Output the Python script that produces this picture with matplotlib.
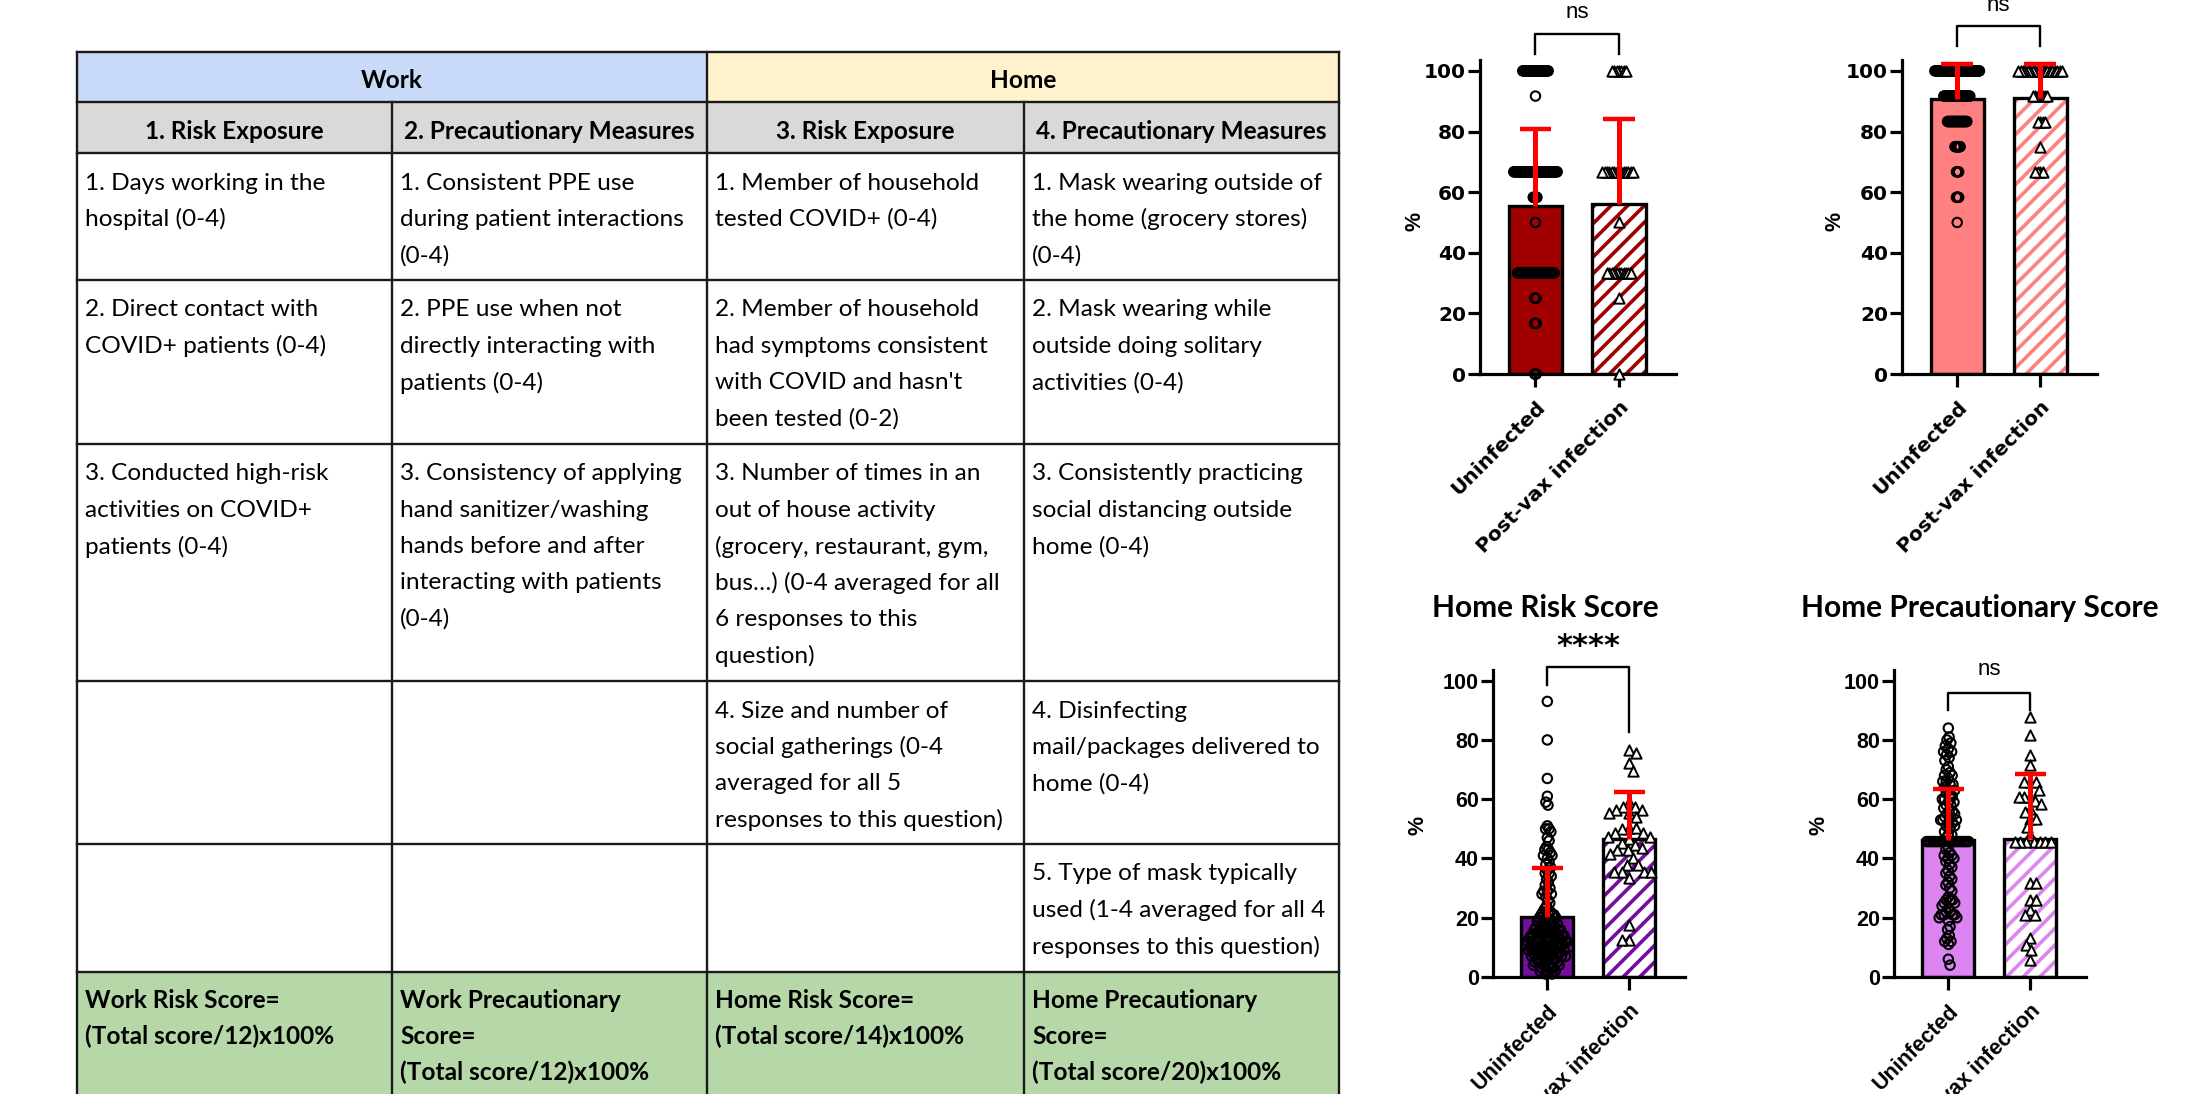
import numpy as np
import matplotlib.pyplot as plt
from matplotlib.patches import Rectangle

plt.rcParams['hatch.linewidth'] = 2.6

groups = ['Uninfected', 'Post-vax infection']

# ---- table text ----
head_top = ['Work', 'Home']
head_sub = ['1. Risk Exposure', '2. Precautionary Measures', '3. Risk Exposure', '4. Precautionary Measures']
cells = [
    [["1. Days working in the", "hospital (0-4)"],
     ["1. Consistent PPE use", "during patient interactions", "(0-4)"],
     ["1. Member of household", "tested COVID+ (0-4)"],
     ["1. Mask wearing outside of", "the home (grocery stores)", "(0-4)"]],
    [["2. Direct contact with", "COVID+ patients (0-4)"],
     ["2. PPE use when not", "directly interacting with", "patients (0-4)"],
     ["2. Member of household", "had symptoms consistent", "with COVID and hasn't", "been tested (0-2)"],
     ["2. Mask wearing while", "outside doing solitary", "activities (0-4)"]],
    [["3. Conducted high-risk", "activities on COVID+", "patients (0-4)"],
     ["3. Consistency of applying", "hand sanitizer/washing", "hands before and after", "interacting with patients", "(0-4)"],
     ["3. Number of times in an", "out of house activity", "(grocery, restaurant, gym,", "bus\u2026) (0-4 averaged for all", "6 responses to this", "question)"],
     ["3. Consistently practicing", "social distancing outside", "home (0-4)"]],
    [[], [],
     ["4. Size and number of", "social gatherings (0-4", "averaged for all 5", "responses to this question)"],
     ["4. Disinfecting", "mail/packages delivered to", "home (0-4)"]],
    [[], [], [],
     ["5. Type of mask typically", "used (1-4 averaged for all 4", "responses to this question)"]],
]
score_cells = [["Work Risk Score=", "(Total score/12)x100%"],
               ["Work Precautionary", "Score=", "(Total score/12)x100%"],
               ["Home Risk Score=", "(Total score/14)x100%"],
               ["Home Precautionary", "Score=", "(Total score/20)x100%"]]

# ---- chart data ----
# Work Risk Score
wr_uninf_vals = [100, 91.7, 66.7, 58.3, 50, 33.3, 25, 16.7, 0]
wr_uninf_n = [35, 1, 59, 6, 1, 50, 3, 3, 3]
wr_pv_vals = [100, 66.7, 50, 33.3, 25, 0]
wr_pv_n = [7, 14, 1, 11, 1, 1]
wr_mean = [55.3, 56.2]
wr_top = [80.9, 84.1]

# Work Precautionary Score
wp_uninf_vals = [100, 91.7, 83.3, 75, 66.7, 58.3, 50]
wp_uninf_n = [61, 36, 27, 8, 4, 4, 1]
wp_pv_vals = [100, 91.7, 83.3, 75, 66.7]
wp_pv_n = [19, 7, 4, 1, 4]
wp_mean = [90.6, 91.2]
wp_top = [102.2, 102.2]

# Home Risk Score
hr_uninf = [93, 80, 67, 61, 59, 58, 51, 50, 50, 49, 47, 46, 44, 43, 43, 42, 41, 41, 40, 39,
            38, 37, 36, 35, 35, 34, 33, 32, 31, 30, 29, 29, 28, 28, 27, 26, 25, 24, 23, 22,
            22, 22, 21, 21, 21, 20, 20, 20, 19, 19, 19, 18, 18, 18, 18, 17, 17, 17, 17, 16,
            16, 16, 16, 16, 15, 15, 15, 15, 15, 14, 14, 14, 14, 14, 14, 13, 13, 13, 13, 13,
            13, 13, 12, 12, 12, 12, 12, 12, 12, 11, 11, 11, 11, 11, 11, 11, 10, 10, 10, 10,
            10, 10, 10, 9, 9, 9, 9, 9, 9, 8, 8, 8, 8, 8, 8, 7, 7, 7, 7, 7, 6, 6, 6, 6, 6,
            5, 5, 5, 5, 4, 4, 4, 4, 3, 3, 3, 2, 2, 2, 1, 1]
hr_pv = [76.7, 75.6, 72.2, 69.4, 59.2, 57.5, 57.5, 56.4, 56.4, 55.3, 55.3, 54, 50.2, 50.2,
         50, 48.5, 48.5, 47.4, 47.4, 46.5, 45.2, 44.5, 43.5, 42.9, 42.9, 41.5, 40.1, 37.8,
         37.8, 35.6, 35.6, 35.6, 35.6, 33.3, 17.6, 12.5, 12.5]
hr_mean = [20.4, 46.5]
hr_top = [36.9, 62.4]

# Home Precautionary Score
hp_uninf = [84, 81, 80, 79, 78, 77, 76, 76, 75, 74, 73, 71, 70, 69, 68, 68, 67, 66, 66, 65,
            65, 64, 63, 63, 62, 61, 61, 60, 60, 59, 59, 58, 58, 57, 56, 56, 55, 55, 54, 54,
            53, 53, 53, 52, 52, 51, 51, 50, 49, 48, 48, 47] + [45.7] * 18 + \
           [44, 43, 42, 41, 41, 40, 40, 39, 38, 37, 36, 35, 34, 33, 32, 31, 30, 29, 27, 26,
            26, 26, 25, 25, 24, 23, 22, 22, 21, 21, 21, 21, 20, 20, 19, 17, 16, 14, 13, 12,
            12, 11, 6, 4]
hp_pv = [87.9, 81.8, 75.0, 71.6, 65.9, 65.9, 65.9, 63.1, 60.8, 60.8, 60.8, 59.5, 58.5, 56.8,
         55.7, 53.4, 53.4, 50.6, 47.8, 45.6, 45.6, 45.6, 45.6, 45.6, 45.6, 45.6, 31.6, 31.6,
         26.0, 26.0, 22.6, 20.9, 20.9, 13.0, 10.8, 9.1, 5.7]
hp_mean = [46.3, 46.5]
hp_top = [63.4, 68.6]

W, H = 2187, 1094
fig = plt.figure(figsize=(W / 100, H / 100), dpi=100)

# ================= table =================
tab = fig.add_axes([0, 0, 1, 1])
tab.set_xlim(0, W)
tab.set_ylim(H, 0)
tab.axis('off')

col_x = [77, 392, 707, 1024, 1339]
row_y = [52, 102, 153, 280, 444, 681, 844, 972, 1140]
tfont = ['Lato', 'DejaVu Sans']
fs = 17.6
lsp = 36.3

tab.add_patch(Rectangle((col_x[0], row_y[0]), col_x[2] - col_x[0], row_y[1] - row_y[0], fc='#C9DAF8', ec='none'))
tab.add_patch(Rectangle((col_x[2], row_y[0]), col_x[4] - col_x[2], row_y[1] - row_y[0], fc='#FFF2CC', ec='none'))
tab.add_patch(Rectangle((col_x[0], row_y[1]), col_x[4] - col_x[0], row_y[2] - row_y[1], fc='#D9D9D9', ec='none'))
tab.add_patch(Rectangle((col_x[0], row_y[7]), col_x[4] - col_x[0], row_y[8] - row_y[7], fc='#B6D7A8', ec='none'))

for y in row_y[:-1]:
    tab.plot([col_x[0], col_x[4]], [y, y], color='#1a1a1a', lw=1.7, solid_capstyle='projecting')
for i, x in enumerate(col_x):
    y0 = row_y[1] if i in (1, 3) else row_y[0]
    tab.plot([x, x], [y0, row_y[-1]], color='#1a1a1a', lw=1.7, solid_capstyle='projecting')

tab.text((col_x[0] + col_x[2]) / 2, (row_y[0] + row_y[1]) / 2 + 4, head_top[0], ha='center', va='center',
         fontsize=fs, fontweight='bold', family=tfont)
tab.text((col_x[2] + col_x[4]) / 2, (row_y[0] + row_y[1]) / 2 + 4, head_top[1], ha='center', va='center',
         fontsize=fs, fontweight='bold', family=tfont)
for j, s in enumerate(head_sub):
    tab.text((col_x[j] + col_x[j + 1]) / 2, (row_y[1] + row_y[2]) / 2 + 4, s, ha='center', va='center',
             fontsize=fs, fontweight='bold', family=tfont)

for r, row in enumerate(cells):
    for c, lines in enumerate(row):
        for k, s in enumerate(lines):
            tab.text(col_x[c] + 8, row_y[r + 2] + 30 + k * lsp, s, ha='left', va='center',
                     fontsize=fs, family=tfont)
for c, lines in enumerate(score_cells):
    for k, s in enumerate(lines):
        tab.text(col_x[c] + 8, row_y[7] + 28 + k * lsp, s, ha='left', va='center',
                 fontsize=fs, fontweight='bold', family=tfont)


# ================= bar charts =================
def swarm(vals, sx, sy, d, half):
    # beeswarm without overlap, then squeezed so the widest row fits in +-half px
    vals = np.asarray(vals, float)
    y = vals * sy
    xs = np.zeros(len(vals))
    done = []
    for k, i in enumerate(np.argsort(-vals, kind='stable')):
        if done:
            idx = np.array(done)
            dy = y[idx] - y[i]
            near = np.abs(dy) < d
            px, pdy = xs[idx][near], dy[near]
        else:
            px, pdy = np.array([]), np.array([])
        dx = np.sqrt(np.maximum(d * d - pdy ** 2, 0))
        cand = np.concatenate([[0.0], px + dx, px - dx])
        sgn = 1 if k % 2 else -1
        cand = cand[np.lexsort((-sgn * cand, np.round(np.abs(cand), 6)))]
        best = cand[0]
        for c in cand:
            if len(px) == 0 or np.all((px - c) ** 2 + pdy ** 2 >= d * d - 1e-6):
                best = c
                break
        xs[i] = best
        done.append(i)
    m = np.abs(xs).max()
    if m > half:
        xs = xs * half / m
    return xs / sx


ytop = 103.6
xl = (-0.665, 1.685)
bw = 0.64

panels = [
    dict(box=(1480, 1676, 374, 60), pts=[np.repeat(wr_uninf_vals, wr_uninf_n), np.repeat(wr_pv_vals, wr_pv_n)],
         mean=wr_mean, top=wr_top, color='#A00000', half=(21.7, 16.5),
         brk=(112.3, 105.7, 105.7), sig='ns', sig_y=119.3, lab=(-0.33, 0.487),
         tfam='DejaVu Sans', tsize=14.5),
    dict(box=(1902, 2097, 374, 60), pts=[np.repeat(wp_uninf_vals, wp_uninf_n), np.repeat(wp_pv_vals, wp_pv_n)],
         mean=wp_mean, top=wp_top, color='#FF8080', half=(22.3, 22),
         brk=(114.9, 108.1, 108.1), sig='ns', sig_y=121.7, lab=(-0.345, 0.487),
         tfam='DejaVu Sans', tsize=14.5),
    dict(box=(1493, 1685, 977, 670), pts=[hr_uninf, hr_pv],
         mean=hr_mean, top=hr_top, color='#740E9F', half=(21.5, 22),
         brk=(104.7, 98.6, 82.8), sig='****', sig_y=111.5, lab=(-0.39, 0.495),
         title='Home Risk Score', tpos=(1545, 608), tfam='Liberation Sans', tsize=15.5),
    dict(box=(1894, 2086, 977, 670), pts=[hp_uninf, hp_pv],
         mean=hp_mean, top=hp_top, color='#DC85F2', half=(21.7, 21),
         brk=(96.0, 90.2, 90.2), sig='ns', sig_y=103.7, lab=(-0.39, 0.495),
         title='Home Precautionary Score', tpos=(1980, 608), tfam='Liberation Sans', tsize=15.5),
]

for p in panels:
    l, r, b, t = p['box']
    ax = fig.add_axes([l / W, 1 - b / H, (r - l) / W, (b - t) / H])
    ax.set_xlim(*xl)
    ax.set_ylim(0, ytop)
    sx = (r - l) / (xl[1] - xl[0])
    sy = (b - t) / ytop

    ax.bar(0, p['mean'][0], bw, color=p['color'], edgecolor='black', lw=2.4, zorder=2)
    ax.bar(1, p['mean'][1], bw, color='white', edgecolor=p['color'], hatch='//', lw=0, zorder=2)
    ax.bar(1, p['mean'][1], bw, fill=False, edgecolor='black', lw=2.4, zorder=2.1)

    v0 = np.asarray(p['pts'][0], float)
    v1 = np.asarray(p['pts'][1], float)
    ax.scatter(swarm(v0, sx, sy, 9.5, p['half'][0]), v0, s=46, marker='o', facecolors='none',
               edgecolors='black', linewidths=1.5, zorder=4, clip_on=False)
    ax.scatter(1 + swarm(v1, sx, sy, 10, p['half'][1]), v1, s=55, marker='^', facecolors='white',
               edgecolors='black', linewidths=1.4, zorder=4, clip_on=False)

    for i in range(2):
        ax.vlines(i, p['mean'][i], p['top'][i], color='#FF0000', lw=3.6, zorder=5)
        ax.hlines(p['top'][i], i - 0.19, i + 0.19, color='#FF0000', lw=3.2, zorder=5, clip_on=False)

    y_top, y_l, y_r = p['brk']
    ax.plot([0, 0, 1, 1], [y_l, y_top, y_top, y_r], color='black', lw=1.7, clip_on=False)
    if p['sig'] == 'ns':
        ax.text(0.5, p['sig_y'], 'ns', ha='center', va='center', fontsize=16, family='Liberation Sans')
    else:
        ax.text(0.5, p['sig_y'], p['sig'], ha='center', va='center', fontsize=22, fontweight='bold',
                family='DejaVu Sans')

    for s in ('top', 'right'):
        ax.spines[s].set_visible(False)
    for s in ('left', 'bottom'):
        ax.spines[s].set_linewidth(2.3)
    ax.set_yticks([0, 20, 40, 60, 80, 100])
    ax.set_xticks([0, 1])
    ax.set_xticklabels(groups, rotation=45, ha='right', rotation_mode='anchor')
    ax.tick_params(axis='both', length=9, width=2.3, labelsize=p['tsize'])
    ax.tick_params(axis='y', pad=1)
    ax.tick_params(axis='x', pad=8)
    for tl in ax.get_xticklabels() + ax.get_yticklabels():
        tl.set_fontweight('bold')
        tl.set_family(p['tfam'])
    ax.set_ylabel('%', fontsize=15.5, fontweight='bold', family='Liberation Sans', va='center')
    ax.yaxis.set_label_coords(*p['lab'])
    if 'title' in p:
        fig.text(p['tpos'][0] / W, 1 - p['tpos'][1] / H, p['title'], ha='center', va='center',
                 fontsize=21.5, fontweight='bold', family=tfont)

fig.savefig('out.png', dpi=100)
